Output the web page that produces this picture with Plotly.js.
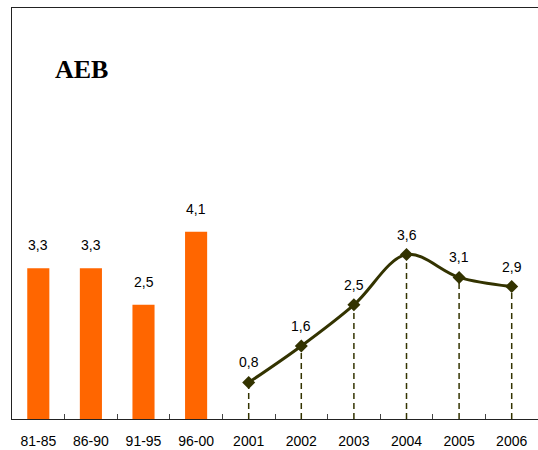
<!DOCTYPE html>
<html>
<head>
<meta charset="utf-8">
<script src="https://cdn.plot.ly/plotly-3.0.1.min.js"></script>
<style>html,body{margin:0;padding:0;background:#fff;}#chart{width:538px;height:450px;}</style>
</head>
<body>
<div id="chart"></div>
<script>
const categories = ['81-85','86-90','91-95','96-00','2001','2002','2003','2004','2005','2006'];
const periodLabels = ['81-85','86-90','91-95','96-00'];
const periodValues = [3.3, 3.3, 2.5, 4.1];
const yearLabels = ['2001','2002','2003','2004','2005','2006'];
const yearValues = [0.8, 1.6, 2.5, 3.6, 3.1, 2.9];
const chartTitle = 'AEB';

const lineColor = '#333300';
const barColor = '#FF6600';

// drop lines from each year point down to the axis
const dropX = [], dropY = [];
yearLabels.forEach((c, i) => { dropX.push(c, c, null); dropY.push(0, yearValues[i], null); });

const traces = [
  {type: 'bar', x: periodLabels, y: periodValues, marker: {color: barColor}, width: 0.42,
   hoverinfo: 'skip'},
  {type: 'scatter', mode: 'lines', x: dropX, y: dropY,
   line: {color: lineColor, width: 1.5, dash: '6px,4px'}, hoverinfo: 'skip'},
  {type: 'scatter', mode: 'lines+markers', x: yearLabels, y: yearValues,
   line: {color: lineColor, width: 3, shape: 'spline', smoothing: 1},
   marker: {symbol: 'diamond', size: 10, color: lineColor}, hoverinfo: 'skip'}
];

const labelFont = {family: 'Liberation Sans', size: 14, color: '#000'};
const fmt = v => v.toFixed(1).replace('.', ',');
const annotations = [];
periodLabels.forEach((c, i) => annotations.push({x: categories.indexOf(c), y: periodValues[i],
  text: fmt(periodValues[i]), showarrow: false, yshift: 23, font: labelFont}));
yearLabels.forEach((c, i) => annotations.push({x: categories.indexOf(c), y: yearValues[i],
  text: fmt(yearValues[i]), showarrow: false, yshift: 20, font: labelFont}));
annotations.push({xref: 'paper', yref: 'paper', x: 0.078, y: 0.85, xanchor: 'left', yanchor: 'middle',
  text: '<b>' + chartTitle + '</b>', showarrow: false,
  font: {family: 'Liberation Serif', size: 26, color: '#000'}});

const layout = {
  width: 538, height: 450,
  margin: {l: 12, r: 0, t: 8, b: 31, pad: 0},
  paper_bgcolor: '#fff', plot_bgcolor: '#fff',
  showlegend: false,
  separators: ', ',
  xaxis: {type: 'category', categoryorder: 'array', categoryarray: categories,
    range: [-0.5, 9.5], showline: true, linecolor: '#222', linewidth: 1.3, mirror: true,
    ticks: 'inside', ticklen: 5, tickcolor: '#444', tickson: 'boundaries',
    ticklabelstandoff: 9, showgrid: false, zeroline: false,
    tickfont: labelFont},
  yaxis: {range: [0, 9], showline: true, linecolor: '#222', linewidth: 1.3,
    showticklabels: false, ticks: '', showgrid: false, zeroline: false},
  annotations: annotations
};

Plotly.newPlot('chart', traces, layout, {displayModeBar: false, staticPlot: true});
</script>
</body>
</html>
